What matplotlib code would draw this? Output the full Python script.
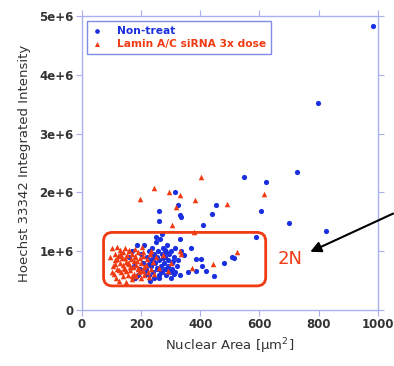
import matplotlib.pyplot as plt
from matplotlib.patches import FancyBboxPatch

blue_x = [982, 799, 728, 546, 623, 606, 700, 824, 587, 313, 324, 262, 262, 331, 335,
          453, 440, 410, 330, 369, 384, 404, 406, 384, 359, 420, 445, 480, 508, 514,
          316, 344, 309, 288,
          200, 205, 210, 215, 220, 225, 228, 232, 235, 238, 240, 242, 245, 248, 250,
          252, 255, 258, 260, 262, 265, 267, 270, 272, 275, 278, 280, 282, 285, 288,
          290, 292, 295, 298, 300, 303, 306, 310, 315, 320, 325, 180, 190, 170, 160,
          185, 195, 175, 330, 335, 250, 270, 230, 260, 300, 245, 255, 275, 285, 215,
          225, 265, 280, 240, 310]
blue_y = [4.84, 3.53, 2.35, 2.26, 2.18, 1.69, 1.48, 1.35, 1.24, 2.00, 1.78, 1.68, 1.51, 1.62, 1.59,
          1.78, 1.63, 1.44, 1.20, 1.05, 0.875, 0.86, 0.75, 0.67, 0.64, 0.67, 0.57, 0.80, 0.90, 0.89,
          0.64, 0.93, 0.84, 0.69,
          0.95, 0.80, 1.10, 0.70, 0.90, 1.00, 0.60, 0.85, 0.75, 1.05, 0.65, 0.95, 0.55, 0.80, 1.15,
          0.70, 0.90, 1.00, 0.60, 0.85, 1.20, 0.75, 0.95, 0.65, 1.05, 0.80, 0.70, 0.90, 0.60, 1.10,
          0.85, 0.75, 0.95, 0.65, 1.00, 0.80, 0.70, 0.90, 1.05, 0.75, 0.85, 0.55, 0.60, 1.00, 0.90,
          1.10, 0.70, 0.75, 0.60, 1.00, 1.25, 1.30, 0.50, 0.55, 0.55, 0.88, 0.72, 0.88, 0.98, 0.62,
          0.78, 0.68, 1.02, 0.92, 0.62]

red_x = [197, 243, 295, 330, 383, 402, 491, 614, 317, 305, 377, 523, 442, 371, 330, 335, 291,
         95, 100, 105, 108, 110, 112, 115, 118, 120, 122, 125, 128, 130, 132, 135, 138, 140,
         142, 145, 148, 150, 152, 155, 158, 160, 162, 165, 168, 170, 172, 175, 178, 180,
         182, 185, 188, 190, 192, 195, 198, 200, 202, 205, 208, 210, 215, 220, 225, 230,
         235, 240, 245, 250, 112, 125, 138, 150, 163, 176, 188, 102, 118, 133, 146, 158,
         170, 184, 196, 210, 222, 144, 156, 128, 180, 206, 232, 262, 275, 300]
red_y = [1.89, 2.07, 2.01, 1.95, 1.87, 2.26, 1.80, 1.97, 1.75, 1.45, 1.32, 0.98, 0.79, 0.72, 1.00, 0.96, 0.67,
         0.90, 1.05, 0.75, 0.62, 0.95, 0.85, 0.55, 1.08, 0.70, 0.92, 0.50, 0.80, 1.02, 0.65, 0.88, 0.58, 0.98,
         0.72, 1.06, 0.48, 0.82, 0.94, 0.60, 0.78, 1.00, 0.68, 0.86, 0.52, 0.96, 0.74, 0.62, 0.90, 1.04,
         0.57, 0.84, 0.70, 0.98, 0.64, 0.88, 0.54, 0.80, 1.08, 0.66, 0.92, 0.60, 0.76, 0.86, 0.56, 0.96,
         0.70, 0.82, 0.62, 0.90, 0.78, 0.68, 0.76, 0.66, 0.74, 0.84, 0.72, 0.64, 0.86, 0.94, 0.70, 1.02,
         0.58, 0.76, 0.68, 0.74, 0.64, 0.88, 0.80, 0.96, 0.92, 0.98, 1.00, 0.72, 0.94, 0.80]

blue = '#1a2fe0'
red = '#f03a12'
axis_col = '#a8b0f0'
text_col = '#333333'

fig = plt.figure(figsize=(3.94, 3.66), dpi=100)
ax = fig.add_axes([0.208, 0.153, 0.751, 0.803])

ax.scatter(blue_x, [v * 1e6 for v in blue_y], s=14, marker='o', color=blue,
           linewidths=0, label='Non-treat', zorder=3)
ax.scatter(red_x, [v * 1e6 for v in red_y], s=16, marker='^', color=red,
           linewidths=0, label='Lamin A/C siRNA 3x dose', zorder=3)

ax.set_xlim(0, 1000)
ax.set_ylim(0, 5e6)
ax.set_xticks([0, 200, 400, 600, 800, 1000])
ax.set_yticks([0, 1e6, 2e6, 3e6, 4e6, 5e6])
ax.set_yticklabels(['0', '1e+6', '2e+6', '3e+6', '4e+6', '5e+6'])

for s in ax.spines.values():
    s.set_color(axis_col)
    s.set_linewidth(1.0)
ax.tick_params(direction='out', length=4, color=axis_col, top=True, right=True,
               labelsize=8.5, labelcolor=text_col, pad=2)
for lab in ax.get_xticklabels() + ax.get_yticklabels():
    lab.set_fontweight('bold')

ax.set_xlabel('Nuclear Area [$\\mathrm{\\mu}$m$^2$]', fontsize=9.5, color=text_col, labelpad=4)
ax.set_ylabel('Hoechst 33342 Integrated Intensity', fontsize=9.5, color=text_col, labelpad=6)

leg = ax.legend(loc='upper left', frameon=True, fancybox=False,
                borderaxespad=0.5, handletextpad=1.3, borderpad=0.45,
                labelspacing=0.25, handlelength=1.0, markerscale=0.9,
                prop={'weight': 'bold', 'size': 7.7})
leg.get_frame().set_edgecolor('#6070e0')
leg.get_frame().set_linewidth(1.0)
for t, c in zip(leg.get_texts(), [blue, red]):
    t.set_color(c)

# 2N box
x0, x1, y0, y1 = 73, 621, 0.41e6, 1.32e6
box = FancyBboxPatch((x0 / 1000, y0 / 5e6), (x1 - x0) / 1000, (y1 - y0) / 5e6,
                     boxstyle='round,pad=0,rounding_size=0.03', transform=ax.transAxes,
                     fill=False, edgecolor=red, linewidth=2.0, zorder=4)
ax.add_patch(box)
ax.text(703, 0.87e6, '2N', color=red, fontsize=13, ha='center', va='center')
ax.annotate('', xy=(763, 0.97e6), xytext=(1060, 1.66e6), annotation_clip=False,
            arrowprops=dict(arrowstyle='-|>', color='black', lw=1.5, mutation_scale=16))

fig.savefig('out.png', dpi=100)
